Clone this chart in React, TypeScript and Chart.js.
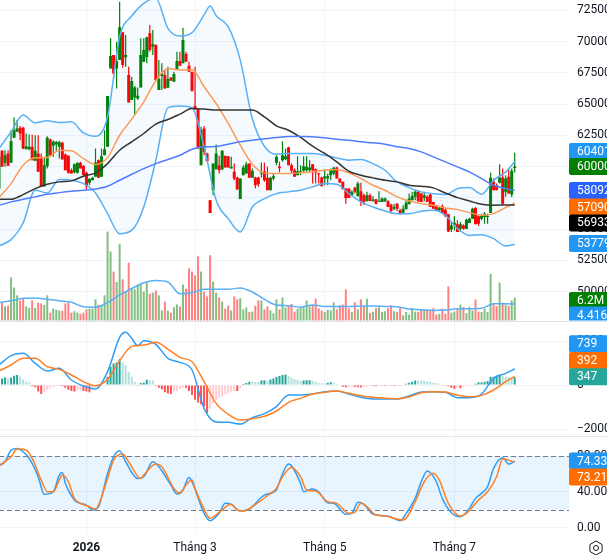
import React, { useEffect, useRef } from "react";
import { Chart, registerables } from "chart.js";

Chart.register(...registerables);

const SLOTS = 190;

const xTickIndex = [29, 65, 108, 151];
const xTickText = ["2026", "Tháng 3", "Tháng 5", "Tháng 7"];

const priceTicks = [72500, 70000, 67500, 65000, 62500, 60000, 57500, 55000, 52500, 50000];
const macdTicks = [2000, 0, -2000];
const stochTicks = [80, 40, 0];

const highs = [61180,61310,61310,61310,62910,63930,63720,63240,63180,62650,62570,62570,62510,62510,61050,60780,62430,62250,62110,62030,62060,61980,61050,60910,59840,60240,60320,60380,60110,59580,59040,59180,61450,60570,61450,62910,65640,70260,68920,69990,73190,70740,70520,67990,67190,66440,66330,70260,70260,70390,71330,70930,69780,68520,68260,67720,67990,67130,67590,69190,69190,71110,69190,68390,67590,67990,64570,63180,63240,61100,57310,60240,61770,60860,61310,60860,60830,60780,60240,59180,59040,60110,60380,60240,59840,59180,59180,60320,60320,59980,59180,59440,60910,60380,62030,61450,61580,60240,59840,60830,60110,60830,60830,60510,60190,59840,59500,59180,59760,59440,59840,59980,59980,59040,58780,58240,58240,58110,58380,58780,58700,57840,57980,57840,57630,57390,58030,57520,57520,57310,57040,57040,57090,56640,56910,57310,57840,57980,58110,58110,57890,57980,57710,57840,57180,56910,56830,56990,56640,56190,55570,56030,55710,55570,55390,55840,55920,56720,56770,56100,56240,56370,56240,59500,59040,58640,60190,59840,59310,59840,59840,61100];
const lows = [58110,59980,59980,60060,60300,62300,62780,62110,61390,61390,61310,60510,60460,59580,58380,58380,59840,60910,60780,61180,60640,60570,59710,59440,59440,59440,59440,59840,59310,58160,58510,58910,59180,59100,59180,60910,61580,67850,67050,66250,68520,67910,67990,65130,65320,64170,65320,66330,68390,68260,69190,68920,66920,66120,66120,66250,66300,66870,66790,67800,68070,68260,68390,67590,65990,64570,61450,60110,60910,60430,56290,57710,59790,59440,59760,59920,59920,59840,58910,58160,57410,59310,59440,59100,59100,58240,58380,59120,58780,58110,58110,58910,60110,59550,60380,60510,60110,59440,59180,59310,59310,59580,59580,59580,58640,58640,58640,58430,58510,58510,58910,59310,59040,58700,58190,57040,57490,57710,57840,57630,56860,56910,57230,57260,57230,56990,57170,57180,57180,56770,56240,56510,56450,56190,56240,56590,56990,57310,57310,57180,57180,57230,57180,56770,56640,56450,56450,56290,55970,54770,54770,54900,54770,54770,54960,55010,55490,55840,55390,55250,55710,55440,55440,56290,58110,58110,58640,56990,57580,57840,57570,59520];
const opens = [58240,61260,60300,61050,60300,62300,62780,63100,63100,61390,61390,61580,60460,61050,60780,58430,60030,62170,61660,61770,61580,61900,60970,60860,59710,59550,59500,60300,60060,59500,58700,58910,59180,60510,59180,60910,61580,67850,68920,67850,68520,70740,68740,67320,65320,65530,65450,66330,68390,68740,70660,69590,69720,66120,67240,67320,66300,67130,66790,67800,68440,68260,69000,68070,67590,64840,64570,60110,63050,61050,57310,58110,59790,60110,59760,60860,60830,59840,59580,59120,57410,59310,59440,60240,59100,59120,59120,59440,59630,59100,58110,59040,60300,59980,60510,60590,61530,60110,59710,59310,59500,59660,59710,59710,60190,59790,59440,59120,59040,59040,59310,59440,59920,59040,58780,58240,58240,57710,58300,57630,58030,57710,57230,57710,57230,57390,57200,57180,57230,57230,56960,56640,57040,56510,56320,56590,56990,57310,57580,57980,57840,57490,57580,57760,57180,56910,56510,56830,56560,56190,54980,55300,55390,55040,55300,55010,55490,55840,56690,56030,55840,55970,55970,56290,58780,58510,58700,59120,57980,59180,57760,59880];
const closes = [60780,59980,60910,60060,62030,62910,63050,62650,61450,61630,61580,60510,61260,59580,58380,60110,62300,60910,61980,61980,61950,60570,59710,59500,59440,60190,60300,59840,59310,58430,59020,59100,60320,59100,60830,61390,65640,68840,67450,68440,71140,68120,68920,65130,66840,66330,65660,68920,69320,70340,69320,69800,66920,67000,67450,66250,67000,66870,67400,68440,68070,70120,68390,67590,66070,64570,61450,62910,61180,60430,56290,60240,61050,59710,61260,59920,59920,59980,59040,58160,59040,59920,60190,59100,59660,58510,58590,59520,58910,58110,59100,59230,60780,59870,60910,60830,60110,59660,59180,59630,59630,60030,59980,59920,59710,59520,59390,58430,59230,59230,59710,59900,59040,58700,58190,57490,57490,57980,57980,58640,57230,57180,57710,57260,57360,57040,57250,57440,57440,56770,56450,56770,56640,56190,56640,57120,57440,57650,57980,57260,57180,57710,57180,56770,56640,56450,56720,56290,56030,54820,55300,55520,54770,55390,55040,55760,55840,56640,55390,55440,56100,56240,56050,59100,58110,58110,59120,57040,59040,57840,59660,60000];

const volumes = [4.0,4.8,3.8,4.0,11.6,8.9,6.8,5.4,5.9,3.8,3.4,5.4,3.4,4.8,4.6,4.2,6.8,2.1,3.2,2.9,2.7,2.6,4.6,4.8,2.1,2.5,2.1,1.8,2.1,3.0,3.2,3.2,5.7,4.2,4.2,6.8,24.0,18.6,13.2,10.4,20.7,11.1,7.8,15.6,8.6,8.4,9.7,9.9,7.8,10.4,7.2,7.5,8.1,6.8,2.7,5.1,2.7,2.1,3.6,4.3,3.8,9.7,8.6,14.0,13.2,12.2,17.3,13.2,7.8,6.5,17.6,10.5,7.5,6.2,5.1,3.2,4.0,2.7,6.5,5.7,6.0,3.0,3.5,2.3,2.4,4.0,5.4,5.4,3.0,3.8,2.7,1.9,5.7,3.0,6.2,3.5,4.0,4.5,2.4,3.2,3.6,3.6,5.4,3.8,4.2,5.9,3.3,2.7,2.3,2.9,2.7,4.9,3.0,4.1,4.3,8.4,3.3,2.3,4.9,3.0,5.7,3.8,5.9,2.0,2.3,3.3,3.6,2.3,2.5,3.3,4.1,2.5,2.3,3.3,1.4,2.3,1.6,3.4,2.4,2.3,2.9,2.9,2.9,2.9,3.3,1.6,1.8,3.2,1.8,9.2,2.1,2.4,3.3,4.3,3.6,2.0,3.6,2.7,5.7,2.4,2.3,3.2,2.3,12.6,4.5,3.9,10.2,4.8,4.3,3.9,5.4,6.2];

const histogram = [270,300,345,300,345,420,450,375,255,165,120,-60,-105,-300,-405,-330,-225,-150,-90,-60,-45,-60,-120,-210,-270,-300,-255,-225,-270,-300,-330,-180,-120,-90,-60,-30,375,825,975,1020,1170,1020,900,600,375,150,-30,90,105,240,210,205,-45,-120,-195,-330,-390,-405,-300,-270,-180,-120,-125,-270,-450,-675,-795,-870,-975,-1275,-1080,-825,-675,-570,-525,-420,-375,-300,-270,-275,-150,45,90,150,145,140,135,210,215,180,255,300,360,405,450,480,405,330,270,240,180,210,215,220,210,150,90,75,70,105,120,105,45,0,-75,-105,-100,-75,-80,-105,-110,-90,-75,-45,-50,-60,-30,-35,-40,-30,-35,-40,-30,-35,-5,60,105,150,210,205,200,195,165,135,105,90,60,30,-30,-60,-120,-180,-105,-150,-75,-45,-40,-30,60,120,125,150,180,375,380,420,450,405,375,360,330,347];

// read every fourth session, plus the last one
const sampleIdx = [0,4,8,12,16,20,24,28,32,36,40,44,48,52,56,60,64,68,72,76,80,84,88,92,96,100,104,108,112,116,120,124,128,132,136,140,144,148,152,156,160,164,168,171];
const bbUpperIdx = [0,4,8,12,16,20,24,28,32,36,40,44,48,52,56,60,64,68,70,72,76,80,84,88,92,96,100,104,108,112,116,120,124,128,132,136,140,144,148,152,156,160,164,168,171];
const macdIdx = [0,4,8,12,16,20,24,28,32,36,40,42,44,46,48,52,56,60,64,68,72,76,80,84,88,92,96,100,104,108,112,116,120,124,128,132,136,140,144,148,152,156,160,164,168,171];

const bbUpper = [61450,62780,64120,63500,63660,63530,63580,62700,62430,63980,70390,72050,73060,73460,71060,70440,70710,72130,72850,72070,71190,68520,63850,61630,60990,61050,61050,61050,60910,60700,60510,60570,60240,59710,58780,58320,57980,57840,57760,58240,58320,57790,58910,59580,60401];
const bbLower = [53650,54160,55490,58110,57890,58960,58910,58640,57890,56240,54640,54900,56770,60510,64700,64840,64700,61580,57310,55840,54770,56770,57440,57840,57980,58110,58380,58640,58590,57840,57180,56770,56450,56240,56240,56430,56510,56110,55040,54500,54560,54240,53650,53779];
const maOrange = [57520,58640,60110,60700,60720,61310,61260,60640,60170,60720,62510,63800,65180,66870,67850,67720,67770,66390,65050,63450,61710,60190,59500,59440,59440,59500,59580,59710,59760,59500,59040,58510,58110,57580,57250,57040,56910,56690,56560,56320,56110,56240,56720,57090];
const maBlack = [57390,57390,57760,58240,58590,58780,58860,59230,59500,60240,61310,61980,62650,63400,63770,64200,64650,64600,64520,64520,64520,64520,63980,63260,62910,62330,61630,61050,60380,59630,59310,59100,58910,58780,58510,58430,58300,57890,57520,57250,56990,56910,56930,56933];
const maBlue = [56910,57180,57390,57580,57790,57920,58030,58110,58210,58430,58910,59390,59840,60240,60570,60910,61390,61580,61610,61790,61980,62110,62220,62330,62410,62410,62380,62300,62190,62110,61980,61900,61790,61580,61450,61180,60780,60380,59980,59580,59040,58510,58240,58092];
const volumeAvg = [4.8,5.3,6.0,6.1,5.7,5.3,4.9,3.7,3.6,4.8,6.9,8.6,10.2,10.8,10.4,7.2,7.5,8.4,8.4,8.4,8.8,7.7,5.7,4.2,4.0,3.6,4.2,3.8,3.8,3.8,3.9,3.9,3.8,3.7,3.1,2.9,2.7,2.8,3.2,3.2,3.3,4.5,4.5,4.416];
const macdLine = [909,1333,1439,985,636,758,227,-45,-182,606,2166,2394,2121,1788,2015,1848,1212,1030,682,-1060,-1682,-1697,-1773,-1485,-1303,-985,-455,-450,-409,-303,-273,-409,-560,-636,-636,-636,-500,-318,-303,-333,-576,-576,-409,303,530,739];
const macdSignal = [636,909,1212,1212,833,712,455,152,-30,258,1106,1757,1818,1939,1636,1257,1060,152,-833,-1333,-1591,-1530,-1424,-1182,-788,-606,-409,-333,-273,-379,-485,-560,-606,-621,-545,-348,-303,-318,-470,-530,-470,-227,152,392];

const stochKIdx = [0,2,4,6,8,10,13,15,18,20,21,22,25,27,29,31,33,36,38,40,42,46,48,51,53,57,59,61,63,64,68,70,73,75,77,80,83,88,92,93,96,100,101,104,106,109,111,115,117,119,121,124,129,133,135,138,140,142,145,147,150,153,156,158,160,162,164,167,169,171];
const stochK = [69.2,73.6,86.6,88.4,84.7,77.3,57,37.4,40.3,58.8,61.8,49.6,31.1,27.4,25.5,20,23.7,60.7,79.2,85.8,73.6,55.1,57,73.6,68.1,47.7,37.7,42.2,56.2,51.4,16.3,8.1,16.3,27.4,26.3,18.9,21.1,36.6,42.2,51.4,71,49.6,40.3,43.3,40.3,28.1,27.4,15.2,16.3,28.5,26.6,15.2,13.3,8.1,16.3,32.9,51.4,63.3,51.4,32.9,17,12.6,21.8,32.9,38.5,45.9,66.2,78.1,71,74.33];
const stochDIdx = [0,4,6,9,11,14,16,18,20,21,23,25,27,29,32,33,36,38,41,43,47,48,52,54,58,60,62,64,65,69,70,73,77,79,81,84,90,92,94,97,100,102,105,109,112,116,118,120,122,125,128,134,138,141,144,146,149,153,155,159,162,165,167,171];
const stochD = [69.2,79.2,87.7,86.6,77.3,53.3,40.3,40.3,53.3,58.8,51.4,32.9,27.4,24.8,21.1,25.5,55.1,75.5,82.1,73.6,55.1,58.8,71,68.1,44,38.5,47.7,53.3,44,14.4,10.7,17.4,26.3,20,18.9,23.7,38.5,44,57,67.3,57,42.2,41.1,29.2,27.4,16.3,17.4,27.4,23.7,14.4,13.3,8.9,29.2,51.4,60.7,53.3,27.4,13.3,16.3,31.1,40.3,57,76.6,73.21];

const stochBandTop = 80;
const stochBandBottom = 20;

const COLORS = {
  up: "#008000",
  down: "#ff0000",
  volUp: "#80bf80",
  volDown: "#ff8080",
  bb: "#5ab0f5",
  bbFill: "rgba(33,150,243,0.05)",
  orange: "#ff9a55",
  black: "#333333",
  ma200: "#4f7dff",
  blue: "#2f9cf4",
  signal: "#ff7f24",
  grid: "#f0f3fa",
  sep: "#e0e3eb",
  text: "#131722",
};

const isUp = (i: number) => closes[i] >= opens[i];

const sparse = (idx: number[], vals: number[]) => {
  const out: (number | null)[] = new Array(SLOTS).fill(null);
  idx.forEach((at, j) => {
    out[at] = vals[j];
  });
  return out;
};

const line = (label: string, data: (number | null)[], yAxisID: string, color: string, order: number, width = 1.5, extra: any = {}) => ({
  type: "line" as const,
  label,
  data,
  yAxisID,
  borderColor: color,
  borderWidth: width,
  pointRadius: 0,
  spanGaps: true,
  cubicInterpolationMode: "monotone" as const,
  fill: false,
  order,
  ...extra,
});

const histColor = (i: number) => {
  const v = histogram[i];
  const prev = i > 0 ? histogram[i - 1] : v;
  if (v >= 0) return v >= prev ? "#26a69a" : "#b2dfdb";
  return v <= prev ? "#ff5252" : "#ffcdd2";
};

const valueLabels = [
  { axis: "yPrice", value: 60401, text: "60401", color: "#2196f3", nudge: -10 },
  { axis: "yPrice", value: 60000, text: "60000", color: "#007f00", nudge: 0 },
  { axis: "yPrice", value: 58092, text: "58092", color: "#2962ff", nudge: 0 },
  { axis: "yPrice", value: 57090, text: "57090", color: "#ff6d00", nudge: 4 },
  { axis: "yPrice", value: 56933, text: "56933", color: "#000000", nudge: 18 },
  { axis: "yPrice", value: 53779, text: "53779", color: "#2196f3", nudge: -1 },
  { axis: "yVol", value: 6.2, text: "6.2M", color: "#007f00", nudge: 3 },
  { axis: "yVol", value: 4.416, text: "4.416", color: "#2196f3", nudge: 11 },
  { axis: "yMacd", value: 739, text: "739", color: "#2196f3", nudge: -25 },
  { axis: "yMacd", value: 392, text: "392", color: "#ff6d00", nudge: -16 },
  { axis: "yMacd", value: 347, text: "347", color: "#26a69a", nudge: -0.5 },
  { axis: "yStoch", value: 74.33, text: "74.33", color: "#2196f3", nudge: 0 },
  { axis: "yStoch", value: 73.21, text: "73.21", color: "#ff6d00", nudge: 15 },
];

const overlayPlugin = {
  id: "paneOverlay",
  beforeDatasetsDraw(chart: any) {
    const { ctx, chartArea, scales } = chart;
    const y = scales.yStoch;
    const top = y.getPixelForValue(stochBandTop);
    const bottom = y.getPixelForValue(stochBandBottom);
    ctx.save();
    ctx.fillStyle = "rgba(33,150,243,0.1)";
    ctx.fillRect(chartArea.left, top, chartArea.right - chartArea.left, bottom - top);
    ctx.strokeStyle = "#787b86";
    ctx.lineWidth = 1;
    ctx.setLineDash([5, 3]);
    [top, bottom].forEach((py: number) => {
      ctx.beginPath();
      ctx.moveTo(chartArea.left, Math.round(py) + 0.5);
      ctx.lineTo(chartArea.right, Math.round(py) + 0.5);
      ctx.stroke();
    });
    ctx.restore();
  },
  afterDraw(chart: any) {
    const { ctx, chartArea, scales, width } = chart;
    const priceBottom = scales.yPrice.bottom;
    const macdBottom = scales.yMacd.bottom;

    ctx.save();
    ctx.strokeStyle = COLORS.sep;
    ctx.lineWidth = 1;
    [priceBottom, macdBottom].forEach((py: number) => {
      ctx.beginPath();
      ctx.moveTo(0, Math.round(py) + 0.5);
      ctx.lineTo(width, Math.round(py) + 0.5);
      ctx.stroke();
    });
    ctx.restore();

    ctx.font = "12px Roboto";
    ctx.textBaseline = "middle";
    valueLabels.forEach((lab) => {
      const scale = scales[lab.axis];
      const yc = scale.getPixelForValue(lab.value) + lab.nudge;
      const h = 17;
      ctx.save();
      if (lab.axis === "yVol") {
        ctx.beginPath();
        ctx.rect(chartArea.right, 0, width - chartArea.right, priceBottom);
        ctx.clip();
      }
      ctx.fillStyle = lab.color;
      ctx.beginPath();
      ctx.roundRect(chartArea.right, yc - h / 2, width - chartArea.right + 4, h, 2);
      ctx.fill();
      ctx.fillStyle = "#ffffff";
      ctx.fillText(lab.text, chartArea.right + 8, yc + 0.5);
      ctx.restore();
    });

    // settings glyph in the axis corner
    const cx = 597;
    const cy = 548;
    ctx.save();
    ctx.strokeStyle = COLORS.text;
    ctx.lineWidth = 1;
    ctx.beginPath();
    for (let a = 0; a < 6; a++) {
      const t = Math.PI / 6 + (a * Math.PI) / 3;
      const px = cx + 7 * Math.cos(t);
      const py = cy + 7 * Math.sin(t);
      if (a === 0) ctx.moveTo(px, py);
      else ctx.lineTo(px, py);
    }
    ctx.closePath();
    ctx.stroke();
    ctx.beginPath();
    ctx.arc(cx, cy, 2.5, 0, Math.PI * 2);
    ctx.stroke();
    ctx.restore();
  },
};

const tickFont = { family: "Roboto", size: 12 };

const paneAxis = (min: number, max: number, weight: number, ticks: number[], format: (v: number) => string) => ({
  type: "linear" as const,
  position: "right" as const,
  stack: "panes",
  stackWeight: weight,
  min,
  max,
  border: { display: false },
  grid: { color: COLORS.grid, drawTicks: false },
  ticks: {
    color: COLORS.text,
    font: tickFont,
    padding: 8,
    autoSkip: false,
    callback: (v: any) => format(Number(v)),
  },
  afterBuildTicks: (scale: any) => {
    scale.ticks = ticks.map((value) => ({ value }));
  },
  afterFit: (scale: any) => {
    scale.width = 38;
    scale.paddingTop = 0;
    scale.paddingBottom = 0;
  },
});

export default function App() {
  const ref = useRef<HTMLCanvasElement | null>(null);

  useEffect(() => {
    if (!ref.current) return;
    const labels: string[] = new Array(SLOTS).fill("");
    xTickIndex.forEach((at, j) => {
      labels[at] = xTickText[j];
    });
    const idx = highs.map((_, i) => i);

    const chart = new Chart(ref.current, {
      type: "bar",
      data: {
        labels,
        datasets: [
          {
            type: "bar",
            label: "Volume",
            data: volumes,
            yAxisID: "yVol",
            grouped: false,
            barThickness: 2,
            inflateAmount: 0,
            backgroundColor: idx.map((i) => (isUp(i) ? COLORS.volUp : COLORS.volDown)),
            order: 20,
          },
          line("Volume MA", sparse(sampleIdx, volumeAvg), "yVol", COLORS.bb, 15),
          {
            type: "bar",
            label: "Wick",
            data: idx.map((i) => [lows[i], highs[i]]),
            yAxisID: "yPrice",
            grouped: false,
            barThickness: 1.2,
            inflateAmount: 0,
            backgroundColor: idx.map((i) => (isUp(i) ? COLORS.up : COLORS.down)),
            order: 12,
          },
          {
            type: "bar",
            label: "Body",
            data: idx.map((i) => [opens[i], closes[i]]),
            yAxisID: "yPrice",
            grouped: false,
            barThickness: 3,
            inflateAmount: 0,
            minBarLength: 1,
            backgroundColor: idx.map((i) => (isUp(i) ? COLORS.up : COLORS.down)),
            order: 11,
          },
          line("BB upper", sparse(bbUpperIdx, bbUpper), "yPrice", COLORS.bb, 8, 1.5, {
            fill: "+1",
            backgroundColor: COLORS.bbFill,
          }),
          line("BB lower", sparse(sampleIdx, bbLower), "yPrice", COLORS.bb, 8),
          line("MA orange", sparse(sampleIdx, maOrange), "yPrice", COLORS.orange, 7),
          line("MA black", sparse(sampleIdx, maBlack), "yPrice", COLORS.black, 6),
          line("MA blue", sparse(sampleIdx, maBlue), "yPrice", COLORS.ma200, 5),
          {
            type: "bar",
            label: "Histogram",
            data: histogram,
            yAxisID: "yMacd",
            grouped: false,
            barThickness: 2,
            inflateAmount: 0,
            backgroundColor: idx.map(histColor),
            order: 4,
          },
          line("MACD", sparse(macdIdx, macdLine), "yMacd", COLORS.blue, 3),
          line("Signal", sparse(sampleIdx, macdSignal), "yMacd", COLORS.signal, 2),
          line("%K", sparse(stochKIdx, stochK), "yStoch", COLORS.blue, 1),
          line("%D", sparse(stochDIdx, stochD), "yStoch", COLORS.signal, 0),
        ] as any,
      },
      options: {
        responsive: false,
        animation: false,
        devicePixelRatio: 1,
        layout: { padding: 0 },
        plugins: { legend: { display: false }, tooltip: { enabled: false } },
        scales: {
          x: {
            type: "category",
            offset: false,
            border: { display: false },
            grid: { color: COLORS.grid, offset: false, drawTicks: false },
            ticks: {
              color: COLORS.text,
              autoSkip: false,
              maxRotation: 0,
              padding: 6,
              font: (ctx: any) => ({ family: "Roboto", size: 12, weight: ctx.index === 0 ? "bold" : "normal" }),
            },
            afterBuildTicks: (scale: any) => {
              scale.ticks = xTickIndex.map((value) => ({ value }));
            },
            afterFit: (scale: any) => {
              scale.height = 20;
              scale.paddingLeft = 0;
              scale.paddingRight = 0;
            },
          },
          yPrice: paneAxis(47693, 73325, 320.5, priceTicks, (v) => String(v)),
          yMacd: paneAxis(-2295, 2932, 115, macdTicks, (v) => (v < 0 ? "\u2212" + Math.abs(v) : String(v))),
          yStoch: paneAxis(-7.8, 102.8, 99.5, stochTicks, (v) => v.toFixed(2)),
          yVol: { type: "linear", display: false, position: "right", min: -57.9, max: 86.5 },
        } as any,
      },
      plugins: [overlayPlugin],
    });
    return () => chart.destroy();
  }, []);

  return (
    <canvas
      ref={ref}
      width={608}
      height={555}
      style={{ position: "absolute", left: -1, top: 0, display: "block", width: 608, height: 555 }}
    />
  );
}
